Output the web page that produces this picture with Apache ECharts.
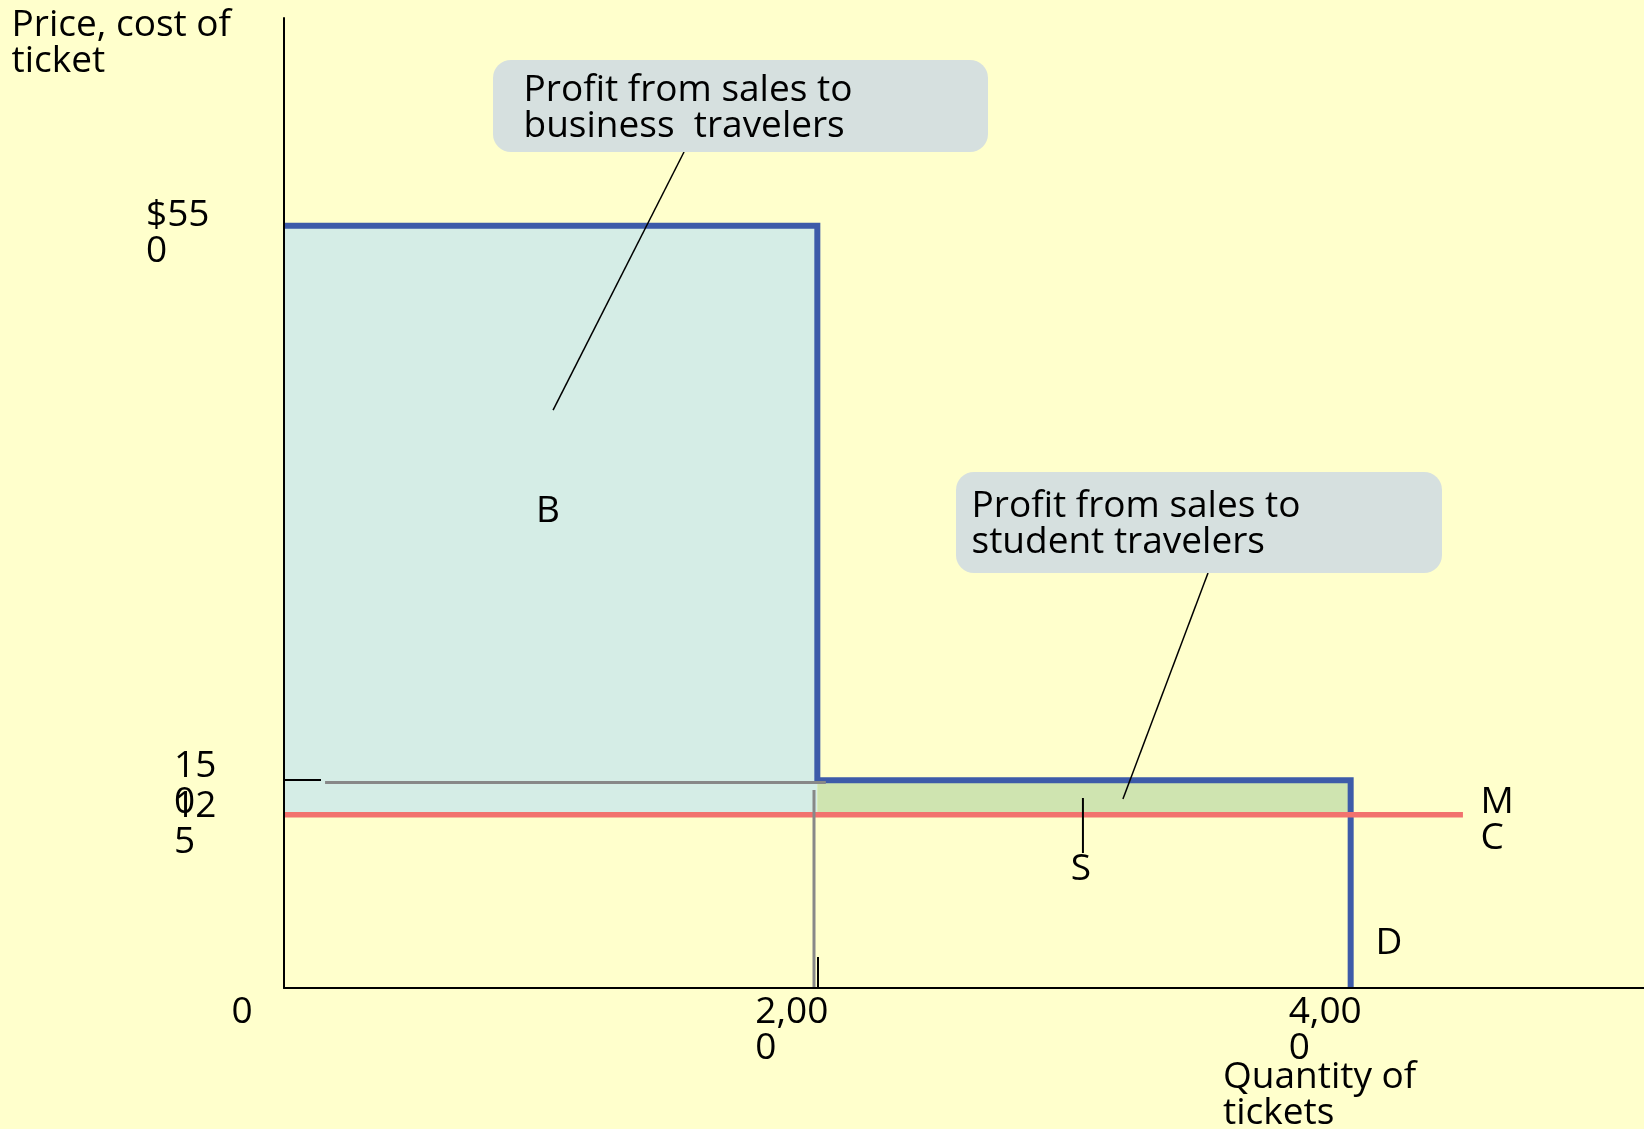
<!DOCTYPE html>
<html>
<head>
<meta charset="utf-8">
<script src="https://cdn.jsdelivr.net/npm/echarts@6/dist/echarts.min.js"></script>
<style>
html,body{margin:0;padding:0;background:#FFFFCC;}
#chart{width:1644px;height:1129px;}
</style>
</head>
<body>
<div id="chart"></div>
<script>
// ---- data ----
const xTickValues = [0, 2000, 4000];
const xTickLabels = ['0', '2,00\n0', '4,00\n0'];
const yTickValues = [125, 150, 550];
const yTickLabels = ['12\n5', '15\n0', '$55\n0'];

const demandQty = [0, 2000, 2000, 4000, 4000];
const demandPrice = [550, 550, 150, 150, 0];
const mcQty = [0, 4421];
const mcPrice = [125, 125];
const businessQty = [0, 2000];
const businessPrice = [125, 550];
const studentQty = [2000, 4000];
const studentPrice = [125, 150];
const guideHQty = [154, 2032];
const guideHPrice = [148.3, 148.3];
const guideVQty = [1987.5, 1987.5];
const guideVPrice = [0, 142.9];
const leaderBQty = [1500, 1009];
const leaderBPrice = [603.3, 417];
const leaderSQty = [3465, 3146];
const leaderSPrice = [299.5, 136.4];
const sTickQty = [2996, 2996];
const sTickPrice = [137.1, 97.4];

const zip = (a, b) => a.map((v, i) => [v, b[i]]);

// ---- styles ----
const FONT = '"Open Sans", "Noto Sans", sans-serif';
const FS = 37;
const BLUE = '#3D5BA9';
const RED = '#F2726E';
const GREY = '#888888';

const chart = echarts.init(document.getElementById('chart'));

function lineSeries(data, color, width, z) {
  return {
    type: 'line', data: data, symbol: 'none', silent: true, z: z,
    lineStyle: { color: color, width: width, cap: 'butt', join: 'miter' },
    animation: false
  };
}

function txt(text, x, y, align) {
  return {
    type: 'text', z: 20, silent: true,
    style: {
      text: text, x: x, y: y, font: FS + 'px ' + FONT, fill: '#000',
      lineHeight: 36, align: align || 'left', verticalAlign: 'top'
    }
  };
}

function richStyle(w) {
  return { width: w, align: 'left', fontSize: FS, lineHeight: 36, fontFamily: FONT, color: '#000' };
}

function labelText(values, labels, style) {
  return function (v) {
    const i = values.indexOf(v);
    if (i < 0) return '';
    return labels[i].split('\n').map(s => '{' + style + '|' + s + '}').join('\n');
  };
}

// one y axis per price label so each label keeps its own placement
function priceAxis(value, width, padTop, main) {
  return {
    type: 'value', min: 0, max: 700, position: 'left', z: 10,
    splitLine: { show: false },
    axisLine: { show: main, lineStyle: { color: '#000', width: 2 } },
    axisTick: main
      ? { show: true, inside: true, length: 37, customValues: [150], lineStyle: { color: '#000', width: 2 } }
      : { show: false },
    axisLabel: {
      customValues: [value],
      hideOverlap: false,
      align: 'right',
      margin: 10,
      padding: [padTop, 0, 0, 0],
      formatter: labelText(yTickValues, yTickLabels, 'r'),
      rich: { r: richStyle(width) }
    }
  };
}

const option = {
  backgroundColor: '#FFFFCC',
  animation: false,
  grid: { left: 284, top: 18, right: 0, bottom: 141 },
  xAxis: {
    type: 'value', min: 0, max: 5100, z: 10,
    splitLine: { show: false },
    axisLine: { show: true, lineStyle: { color: '#000', width: 2 } },
    axisTick: { show: true, inside: true, length: 31, customValues: [2000], lineStyle: { color: '#000', width: 2 } },
    axisLabel: {
      customValues: xTickValues,
      hideOverlap: false,
      margin: 6,
      formatter: function (v) {
        const i = xTickValues.indexOf(v);
        const style = v === 0 ? 'o' : 'w';
        return xTickLabels[i].split('\n').map(s => '{' + style + '|' + s + '}').join('\n');
      },
      rich: { w: richStyle(124), o: richStyle(105) }
    }
  },
  yAxis: [
    priceAxis(yTickValues[1], 100, 8, true),
    priceAxis(yTickValues[0], 100, 20, false),
    priceAxis(yTickValues[2], 128, 16, false)
  ],
  series: [
    {
      type: 'line', data: [], silent: true, z: 1,
      markArea: {
        silent: true,
        data: [
          [{ coord: [businessQty[0], businessPrice[0]], itemStyle: { color: '#D5EDE6' } },
           { coord: [businessQty[1], businessPrice[1]] }],
          [{ coord: [studentQty[0], studentPrice[0]], itemStyle: { color: '#CFE4B0' } },
           { coord: [studentQty[1], studentPrice[1]] }]
        ]
      }
    },
    lineSeries(zip(demandQty, demandPrice), BLUE, 6, 3),
    lineSeries(zip(mcQty, mcPrice), RED, 5.5, 4),
    lineSeries(zip(guideHQty, guideHPrice), GREY, 3, 5),
    lineSeries(zip(guideVQty, guideVPrice), GREY, 3, 5),
    lineSeries(zip(leaderBQty, leaderBPrice), '#000', 1.5, 6),
    lineSeries(zip(leaderSQty, leaderSPrice), '#000', 1.5, 6),
    lineSeries(zip(sTickQty, sTickPrice), '#000', 2, 6)
  ],
  graphic: [
    { type: 'rect', z: 10, silent: true, shape: { x: 493, y: 60, width: 495, height: 92, r: 18 }, style: { fill: '#D6E0DF' } },
    { type: 'rect', z: 10, silent: true, shape: { x: 956, y: 472, width: 486, height: 101, r: 18 }, style: { fill: '#D6E0DF' } },
    txt('Price, cost of\nticket', 11.5, 7),
    txt('Profit from sales to\nbusiness  travelers', 523.5, 72),
    txt('Profit from sales to\nstudent travelers', 971.5, 488),
    txt('B', 548, 493, 'center'),
    txt('S', 1081, 851, 'center'),
    txt('M\nC', 1480.5, 784),
    txt('D', 1375.5, 925),
    txt('Quantity of\ntickets', 1223, 1059)
  ]
};

chart.setOption(option);
</script>
</body>
</html>
